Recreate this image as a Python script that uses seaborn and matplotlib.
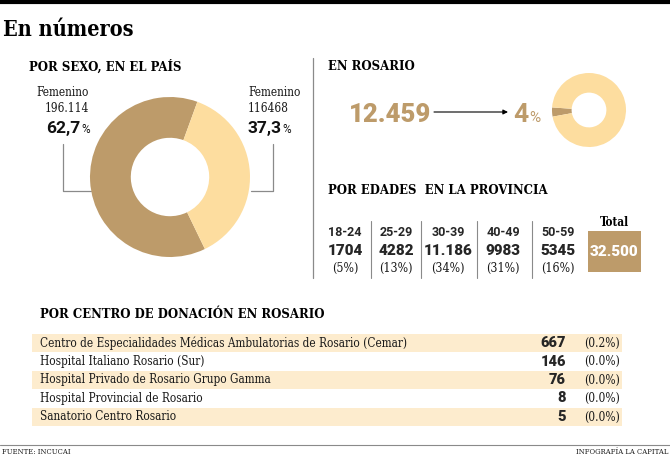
import matplotlib
matplotlib.use("Agg")
import matplotlib.pyplot as plt
import seaborn as sns

# ---- datos ----
sexo_labels = ["Femenino", "Femenino"]
sexo_values = [196114, 116468]
sexo_txt = ["196.114", "116468"]
sexo_pct = ["62,7", "37,3"]

rosario_total = "12.459"
rosario_pct = [4, 96]

edades = ["18-24", "25-29", "30-39", "40-49", "50-59"]
edades_n = ["1704", "4282", "11.186", "9983", "5345"]
edades_pct = [5, 13, 34, 31, 16]
edades_total = "32.500"

centros = [
    "Centro de Especialidades Médicas Ambulatorias de Rosario (Cemar)",
    "Hospital Italiano Rosario (Sur)",
    "Hospital Privado de Rosario Grupo Gamma",
    "Hospital Provincial de Rosario",
    "Sanatorio Centro Rosario",
]
centros_n = [667, 146, 76, 8, 5]
centros_pct = ["0.2", "0.0", "0.0", "0.0", "0.0"]

# ---- estilo ----
sns.set_theme(style="white")
OSCURO = "#bd9b6a"
CLARO = "#fddd9f"
FRANJA = "#fdecce"
GRIS = "#8a8a8a"
TEXTO = "#1a1a1a"
SERIF = dict(family="DejaVu Serif", stretch="condensed", color=TEXTO)
SERIF_B = dict(family="DejaVu Serif", stretch="condensed", weight="bold", color="black")
SANS_B = dict(family="Roboto", weight="bold")

W, H = 670, 455
fig = plt.figure(figsize=(W / 100, H / 100), dpi=100)
fig.patch.set_facecolor("white")
ax = fig.add_axes([0, 0, 1, 1])
ax.set_xlim(0, W)
ax.set_ylim(H, 0)
ax.axis("off")
renderer = fig.canvas.get_renderer()


def ancho(t):
    bb = t.get_window_extent(renderer=renderer)
    return bb.width  # px == unidades de datos (1:1)


def numero_pct(x, y, num, size, psize, color, ha="left"):
    t1 = ax.text(0, y, num, fontsize=size, color=color, va="baseline", **SANS_B)
    t2 = ax.text(0, y, "%", fontsize=psize, color=color, va="baseline", family="Roboto")
    w1, w2 = ancho(t1), ancho(t2)
    x0 = x - (w1 + w2) if ha == "right" else x
    t1.set_x(x0)
    t2.set_x(x0 + w1 + 0.5)


def dona(cx, cy, r, valores, colores, start, ancho_anillo):
    a = fig.add_axes([(cx - r) / W, 1 - (cy + r) / H, 2 * r / W, 2 * r / H])
    a.pie(valores, colors=colores, startangle=start, counterclock=True,
          wedgeprops=dict(width=ancho_anillo, linewidth=0))
    a.set_xlim(-1, 1)
    a.set_ylim(-1, 1)
    a.set_aspect("equal")
    a.axis("off")
    return a


# barra superior y titulo
ax.plot([0, W], [1.5, 1.5], color="black", lw=3, solid_capstyle="butt")
ax.text(3, 30, "En números", fontsize=15.5, va="center", **SERIF_B)

# ---- por sexo ----
ax.text(29, 67, "POR SEXO, EN EL PAÍS", fontsize=9.4, va="center", **SERIF_B)
dona(170, 177, 80, sexo_values, [OSCURO, CLARO], 70, 0.51)

ax.text(89, 93, sexo_labels[0], fontsize=8.5, ha="right", va="center", **SERIF)
ax.text(89, 108, sexo_txt[0], fontsize=8.5, ha="right", va="center", **SERIF)
numero_pct(89, 133, sexo_pct[0], 12.5, 8.5, "#111111", ha="right")
ax.text(248, 93, sexo_labels[1], fontsize=8.5, ha="left", va="center", **SERIF)
ax.text(248, 108, sexo_txt[1], fontsize=8.5, ha="left", va="center", **SERIF)
numero_pct(248, 133, sexo_pct[1], 12.5, 8.5, "#111111")

# lineas guia
ax.plot([63, 63, 91], [144, 191, 191], color=GRIS, lw=0.9)
ax.plot([273, 273, 251], [144, 191, 191], color=GRIS, lw=0.9)

# divisor vertical
ax.plot([313, 313], [58, 278], color=GRIS, lw=0.9)

# ---- en rosario ----
ax.text(328, 66, "EN ROSARIO", fontsize=9.4, va="center", **SERIF_B)
ax.text(349, 122, rosario_total, fontsize=18.5, color=OSCURO, va="baseline",
        family="Roboto", weight="heavy")
ax.annotate("", xy=(508, 112), xytext=(434, 112),
            arrowprops=dict(arrowstyle="-|>", color="black", lw=0.8,
                            mutation_scale=7, shrinkA=0, shrinkB=0))
numero_pct(513, 122, str(rosario_pct[0]), 19, 11, OSCURO)
dona(589, 110, 37, rosario_pct, [OSCURO, CLARO], 176, 0.53)

# ---- por edades ----
ax.text(328, 190, "POR EDADES  EN LA PROVINCIA", fontsize=9.4, va="center", **SERIF_B)
col_x = [345, 396, 448, 503, 558]
sep_x = [371, 421, 477, 532]
for xs in sep_x:
    ax.plot([xs, xs], [221, 278], color=GRIS, lw=0.8)
for xc, g, n, p in zip(col_x, edades, edades_n, edades_pct):
    ax.text(xc, 233, g, fontsize=9, ha="center", va="center", **SANS_B)
    ax.text(xc, 251, n, fontsize=11, ha="center", va="center", family="Roboto", weight="heavy")
    ax.text(xc, 268, f"({p}%)", fontsize=8.8, ha="center", va="center", **SERIF)

ax.add_patch(plt.Rectangle((588, 231), 53, 41, color=OSCURO, lw=0))
ax.text(614.5, 222, "Total", fontsize=8.5, ha="center", va="center", **SERIF_B)
ax.text(614.5, 252, edades_total, fontsize=11, ha="center", va="center",
        color="white", family="Roboto", weight="heavy")

# ---- por centro de donacion ----
ax.text(40, 315, "POR CENTRO DE DONACIÓN EN ROSARIO", fontsize=9.4, va="center", **SERIF_B)
fila_y0, fila_h = 343, 18.5
for i, (c, n, p) in enumerate(zip(centros, centros_n, centros_pct)):
    y = fila_y0 + i * fila_h
    if i % 2 == 0:
        ax.add_patch(plt.Rectangle((32, y - fila_h / 2), 590, fila_h, color=FRANJA, lw=0))
    ax.text(40, y, c, fontsize=8.5, va="center", **SERIF)
    ax.text(566, y, str(n), fontsize=10.5, ha="right", va="center", family="Roboto", weight="heavy")
    ax.text(584, y, f"({p}%)", fontsize=8.6, va="center", **SERIF)

# pie
ax.plot([0, W], [445, 445], color=GRIS, lw=0.8)
ax.text(2, 452, "FUENTE: INCUCAI", fontsize=5.5, va="center", **SERIF)
ax.text(668, 452, "INFOGRAFÍA LA CAPITAL", fontsize=5.5, ha="right", va="center", **SERIF)

fig.savefig("out.png", dpi=100, facecolor="white")
